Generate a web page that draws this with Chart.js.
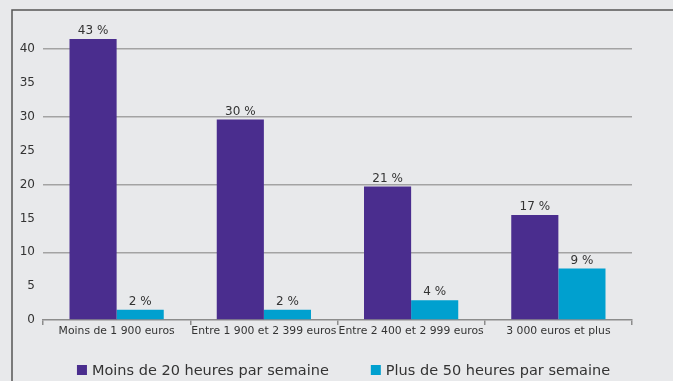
<!DOCTYPE html>
<html>
<head>
<meta charset="utf-8">
<script src="https://cdn.jsdelivr.net/npm/chart.js@4"></script>
<style>
  html, body { margin: 0; padding: 0; background: #e8e9eb; }
  #wrap { width: 673px; height: 381px; position: relative; }
</style>
</head>
<body>
<div id="wrap"><canvas id="incomeChart"></canvas></div>
<script>
  // categories and series (heights, labels as printed)
  const categories = ['Moins de 1 900 euros', 'Entre 1 900 et 2 399 euros', 'Entre 2 400 et 2 999 euros', '3 000 euros et plus'];
  const seriesNames = ['Moins de 20 heures par semaine', 'Plus de 50 heures par semaine'];
  const lessThan20 = [41.5, 29.6, 19.7, 15.5];
  const moreThan50 = [1.5, 1.5, 2.9, 7.6];
  const lessThan20Labels = ['43 %', '30 %', '21 %', '17 %'];
  const moreThan50Labels = ['2 %', '2 %', '4 %', '9 %'];
  const yTicks = [0, 5, 10, 15, 20, 25, 30, 35, 40];

  const FONT = '"DejaVu Sans", sans-serif';
  const TEXT = '#333333';

  // background + frame lines (left and top only)
  const framePlugin = {
    id: 'frame',
    beforeDraw(c) {
      const ctx = c.ctx;
      ctx.save();
      ctx.fillStyle = '#e8e9eb';
      ctx.fillRect(0, 0, c.width, c.height);
      ctx.strokeStyle = '#555555';
      ctx.lineWidth = 1.5;
      ctx.beginPath();
      ctx.moveTo(12, c.height);
      ctx.lineTo(12, 10);
      ctx.lineTo(c.width, 10);
      ctx.stroke();
      ctx.restore();
    }
  };

  // value labels above each bar
  const valueLabels = {
    id: 'valueLabels',
    afterDatasetsDraw(c) {
      const ctx = c.ctx;
      const texts = [lessThan20Labels, moreThan50Labels];
      ctx.save();
      ctx.font = '12px ' + FONT;
      ctx.fillStyle = TEXT;
      ctx.textAlign = 'center';
      ctx.textBaseline = 'bottom';
      c.data.datasets.forEach((ds, i) => {
        c.getDatasetMeta(i).data.forEach((bar, j) => {
          ctx.fillText(texts[i][j], bar.x, bar.y - 2);
        });
      });
      ctx.restore();
    }
  };

  // legend with a wide gap between the two entries
  const wideLegend = {
    id: 'wideLegend',
    afterDraw(c) {
      const ctx = c.ctx;
      const gap = 42, box = 10, boxGap = 5;
      ctx.save();
      ctx.font = '14.5px ' + FONT;
      ctx.textBaseline = 'middle';
      ctx.textAlign = 'left';
      const widths = c.data.datasets.map(ds => box + boxGap + ctx.measureText(ds.label).width);
      const total = widths.reduce((a, b) => a + b, 0) + gap * (widths.length - 1);
      let x = c.width / 2 + 7 - total / 2;
      const y = c.height - 11;
      c.data.datasets.forEach((ds, i) => {
        ctx.fillStyle = ds.backgroundColor;
        ctx.fillRect(x, y - box / 2, box, box);
        ctx.fillStyle = TEXT;
        ctx.fillText(ds.label, x + box + boxGap, y + 1);
        x += widths[i] + gap;
      });
      ctx.restore();
    }
  };

  new Chart(document.getElementById('incomeChart'), {
    type: 'bar',
    data: {
      labels: categories,
      datasets: [
        { label: seriesNames[0], data: lessThan20, backgroundColor: '#4a2d8e' },
        { label: seriesNames[1], data: moreThan50, backgroundColor: '#00a0cf' }
      ]
    },
    options: {
      responsive: true,
      maintainAspectRatio: false,
      animation: false,
      categoryPercentage: 0.64,
      barPercentage: 1,
      layout: { padding: { left: 14, right: 41, top: 0, bottom: 39 } },
      plugins: {
        legend: { display: false },
        tooltip: { enabled: false }
      },
      scales: {
        y: {
          min: 0,
          max: 45,
          afterBuildTicks: axis => { axis.ticks = yTicks.map(v => ({ value: v })); },
          afterFit: axis => { axis.width = 29; },
          ticks: {
            color: TEXT,
            padding: 8,
            font: { family: FONT, size: 12 }
          },
          border: { display: false },
          grid: {
            drawTicks: false,
            lineWidth: 1.5,
            color: ctx => (ctx.tick && ctx.tick.value > 0 && ctx.tick.value % 10 === 0) ? '#a3a3a3' : 'rgba(0,0,0,0)'
          }
        },
        x: {
          afterFit: axis => { axis.height = 22; },
          ticks: {
            color: TEXT,
            padding: 0,
            maxRotation: 0,
            minRotation: 0,
            autoSkip: false,
            font: { family: FONT, size: 10.8 }
          },
          border: { display: true, color: '#8c8c8c', width: 1.5 },
          grid: {
            offset: true,
            drawOnChartArea: false,
            tickLength: 5,
            color: '#8c8c8c',
            lineWidth: 1.5
          }
        }
      }
    },
    plugins: [framePlugin, valueLabels, wideLegend]
  });
</script>
</body>
</html>
